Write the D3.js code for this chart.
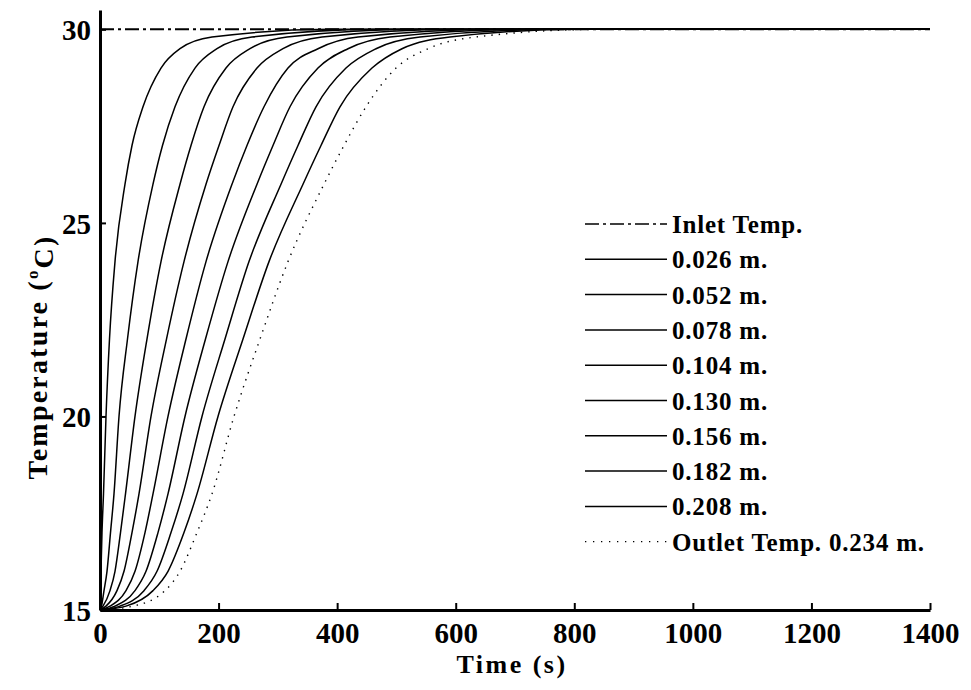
<!DOCTYPE html>
<html>
<head>
<meta charset="utf-8">
<script src="https://cdn.jsdelivr.net/npm/d3@7"></script>
<style>
  html, body { margin: 0; padding: 0; background: #fff; }
  svg { display: block; }
  text { font-family: "Liberation Serif", "Times New Roman", serif; font-weight: bold; fill: #000; }
</style>
</head>
<body>
<svg id="chart" width="971" height="690"></svg>
<script>
// ---- data ----
// temperature levels (°C) at which each curve's time (s) was read
const tempLevels = [15, 15.1, 15.5, 16, 17, 18, 20, 22, 24, 26, 27, 28, 29, 29.5, 29.8, 30];
const t026 = [0, 0.17, 0.84, 1.69, 3.37, 5.90, 10.12, 16.02, 25.30, 42.17, 53.97, 72.53, 102.89, 134.94, 188.91, 387.94];
const t052 = [0, 2.53, 6.75, 11.81, 17.71, 23.61, 32.05, 46.38, 64.09, 89.40, 105.42, 126.50, 160.24, 197.34, 256.38, 472.28];
const t078 = [0, 5.06, 16.87, 25.30, 34.58, 43.01, 59.03, 79.27, 102.89, 134.94, 153.49, 175.42, 212.52, 253.01, 315.41, 539.74];
const t104 = [0, 10.12, 28.67, 40.48, 53.97, 65.78, 86.02, 112.17, 141.68, 178.79, 200.72, 224.33, 264.81, 308.67, 374.45, 607.21];
const t130 = [0, 16.87, 43.85, 59.03, 75.90, 89.40, 114.70, 145.06, 178.79, 222.64, 247.94, 276.62, 317.10, 367.70, 435.17, 674.68];
const t156 = [0, 25.30, 59.03, 77.59, 97.83, 114.70, 143.37, 177.95, 215.90, 264.81, 291.80, 320.47, 367.70, 418.30, 489.14, 725.28];
const t182 = [0, 33.73, 74.21, 96.14, 119.76, 140.00, 172.04, 210.84, 251.32, 305.29, 333.97, 364.33, 414.93, 465.53, 539.74, 775.89];
const t208 = [0, 43.85, 89.40, 114.70, 141.68, 163.61, 199.03, 241.20, 285.05, 342.40, 372.76, 404.81, 458.78, 509.38, 590.35, 809.62];
const t234 = [0, 55.66, 109.64, 134.94, 163.61, 188.91, 226.02, 269.87, 317.10, 377.82, 411.55, 448.66, 499.26, 553.24, 632.51, 843.35];
const endTime = 1400;
const endTemp = 30;

const inletTimes = [0, 1400];
const inletTemps = [30, 30];

const legendLabels = ["Inlet Temp.", "0.026 m.", "0.052 m.", "0.078 m.", "0.104 m.", "0.130 m.", "0.156 m.", "0.182 m.", "0.208 m.", "Outlet Temp. 0.234 m."];

const xTicks = [0, 200, 400, 600, 800, 1000, 1200, 1400];
const yTicks = [15, 20, 25, 30];
const xDomain = [0, 1400];
const yDomain = [15, 30.5];

// ---- drawing ----
const svg = d3.select("#chart");
const x = d3.scaleLinear().domain(xDomain).range([100, 930]);
const y = d3.scaleLinear().domain(yDomain).range([610, 10]);

const solidSeries = [t026, t052, t078, t104, t130, t156, t182, t208];

const line = d3.line()
  .x(d => x(d[0]))
  .y(d => y(d[1]))
  .curve(d3.curveMonotoneX);

function seriesPoints(times) {
  const pts = times.map((t, i) => [t, tempLevels[i]]);
  pts.push([endTime, endTemp]);
  return pts;
}

const g = svg.append("g");

solidSeries.forEach(ts => {
  g.append("path")
    .attr("d", line(seriesPoints(ts)))
    .attr("fill", "none")
    .attr("stroke", "#000")
    .attr("stroke-width", 1.5);
});

g.append("path")
  .attr("d", line(seriesPoints(t234)))
  .attr("fill", "none")
  .attr("stroke", "#000")
  .attr("stroke-width", 1.4)
  .attr("stroke-dasharray", "1.4,6");

g.append("path")
  .attr("d", d3.line().x(d => x(d[0])).y(d => y(d[1]))(inletTimes.map((t, i) => [t, inletTemps[i]])))
  .attr("fill", "none")
  .attr("stroke", "#000")
  .attr("stroke-width", 2)
  .attr("stroke-dasharray", "14,4,3,4");

// axes
const xAxis = svg.append("g")
  .attr("transform", "translate(0,610)")
  .call(d3.axisBottom(x).tickValues(xTicks).tickFormat(d3.format("d")).tickSizeInner(-7).tickSizeOuter(0).tickPadding(12));
const yAxis = svg.append("g")
  .attr("transform", "translate(100,0)")
  .call(d3.axisLeft(y).tickValues(yTicks).tickFormat(d3.format("d")).tickSizeInner(-6).tickSizeOuter(0).tickPadding(9));

[xAxis, yAxis].forEach(a => {
  a.select(".domain").attr("stroke", "#000").attr("stroke-width", 3);
  a.selectAll(".tick line").attr("stroke", "#000").attr("stroke-width", 2);
  a.selectAll(".tick text")
    .attr("fill", "#000")
    .style("font-family", "'Liberation Serif', serif")
    .style("font-weight", "bold")
    .style("font-size", "29px");
});
yAxis.selectAll(".tick text").attr("dy", "0.36em");

// axis titles
svg.append("text")
  .attr("x", 512).attr("y", 673)
  .attr("text-anchor", "middle")
  .style("font-size", "26px")
  .style("letter-spacing", "2.5px")
  .text("Time (s)");

const yt = svg.append("text")
  .attr("transform", "translate(47,357) rotate(-90)")
  .attr("text-anchor", "middle")
  .style("font-size", "28px")
  .style("letter-spacing", "2.2px");
yt.append("tspan").text("Temperature (");
yt.append("tspan").attr("dy", "-0.55em").style("font-size", "17px").text("o");
yt.append("tspan").attr("dy", "0.55em").text("C)");

// legend
const legY0 = 224, legStep = 35.3;
legendLabels.forEach((lab, i) => {
  const ly = legY0 + i * legStep;
  const ln = svg.append("line")
    .attr("x1", 585).attr("x2", 667)
    .attr("y1", ly).attr("y2", ly)
    .attr("stroke", "#000");
  if (i === 0) ln.attr("stroke-width", 1.6).attr("stroke-dasharray", "14,4,3,4");
  else if (i === legendLabels.length - 1) ln.attr("stroke-width", 1.3).attr("stroke-dasharray", "1.3,6.7");
  else ln.attr("stroke-width", 1.5);
  svg.append("text")
    .attr("x", 672).attr("y", ly + 9)
    .style("font-size", "25px")
    .style("letter-spacing", "0.8px")
    .text(lab);
});
</script>
</body>
</html>
